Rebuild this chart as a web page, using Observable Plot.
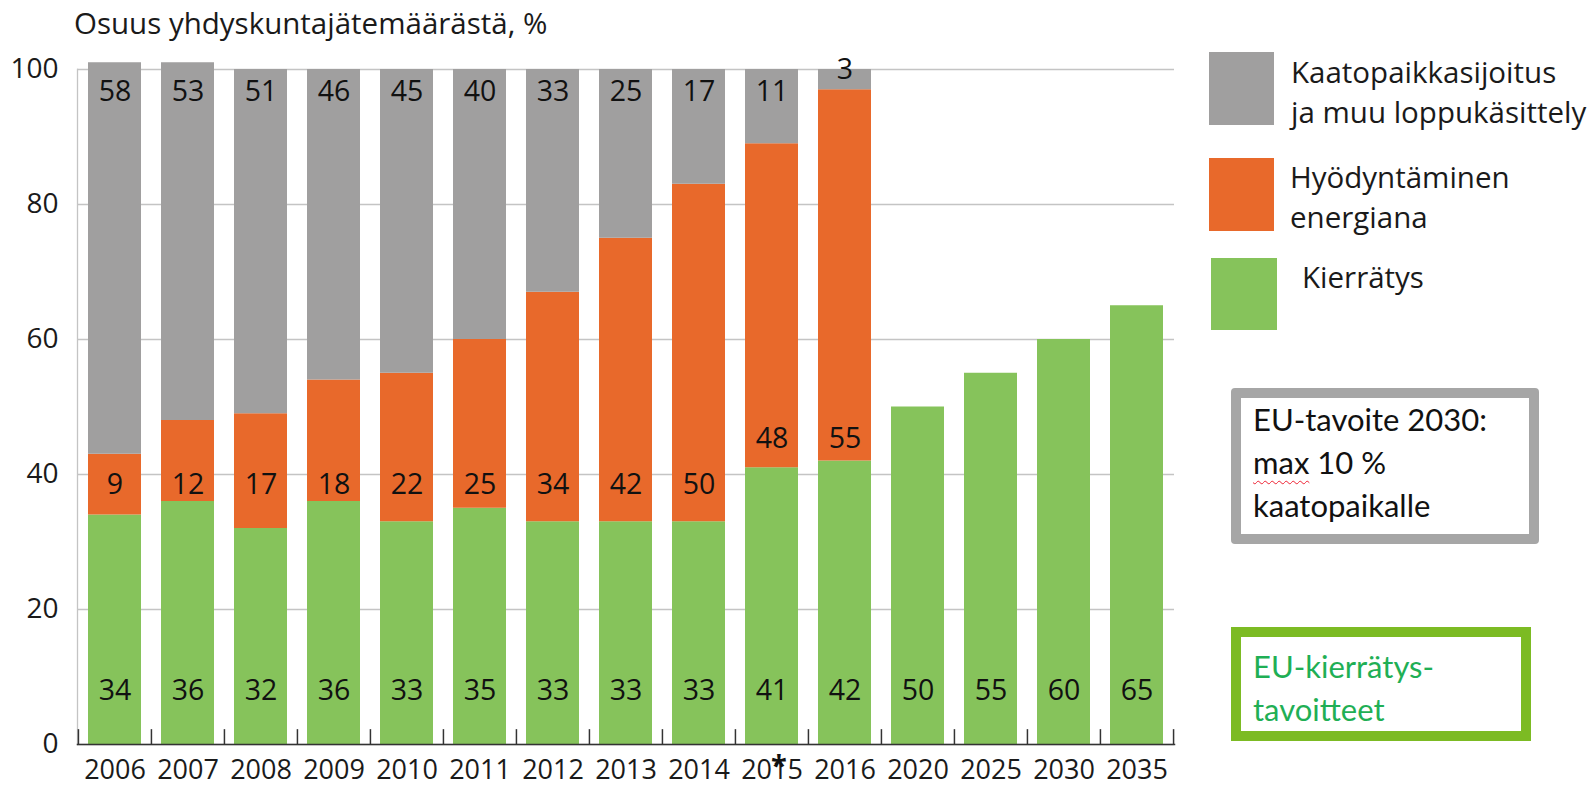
<!DOCTYPE html>
<html>
<head>
<meta charset="utf-8">
<script src="https://cdn.jsdelivr.net/npm/d3@7"></script>
<script src="https://cdn.jsdelivr.net/npm/@observablehq/plot@0.6"></script>
<style>
  html, body { margin: 0; padding: 0; background: #fff; }
  #wrap { position: relative; width: 1593px; height: 787px; overflow: hidden; font-family: "Open Sans", sans-serif; color: #1a1a1a; }
  #title { position: absolute; left: 74px; top: 2px; font-size: 29.5px; white-space: nowrap; }
  .sw { position: absolute; }
  .lt { position: absolute; font-size: 29.5px; line-height: 40px; white-space: nowrap; }
  .box { position: absolute; box-sizing: border-box; font-family: Lato, "Open Sans", sans-serif; font-size: 31px; line-height: 43px; white-space: nowrap; }
</style>
</head>
<body>
<div id="wrap">
  <div id="chart"></div>
  <div id="title">Osuus yhdyskuntajätemäärästä, %</div>
  <div id="legend"></div>
  <div class="box" style="left:1231px; top:388px; width:308px; height:156px; border:10px solid #a6a6a6; border-radius:4px; padding:0 0 0 12px; color:#111;">EU-tavoite 2030:<br><span style="text-decoration: underline wavy #e23; text-decoration-thickness:1px; text-underline-offset:6px;">max</span> 10 %<br>kaatopaikalle</div>
  <div class="box" style="left:1231px; top:627px; width:300px; height:114px; border:10px solid #7cbb23; padding:8px 0 0 12px; color:#1faf55;">EU-kierrätys-<br>tavoitteet</div>
</div>
<script>
const years = ["2006","2007","2008","2009","2010","2011","2012","2013","2014","2015","2016","2020","2025","2030","2035"];
const recycling = [34,36,32,36,33,35,33,33,33,41,42,50,55,60,65];
const energy = [9,12,17,18,22,25,34,42,50,48,55,null,null,null,null];
const landfill = [58,53,51,46,45,40,33,25,17,11,3,null,null,null,null];
const seriesNames = ["Kierrätys","Hyödyntäminen energiana","Kaatopaikkasijoitus ja muu loppukäsittely"];
const seriesColors = ["#86c35b","#e8692b","#a09f9f"];
const yTicks = [0,20,40,60,80,100];

const W = 1593, H = 787;
const mL = 77, mR = 419, mT = 69, mB = 43;
const step = (W - mL - mR) / years.length;

const rows = [];
years.forEach((yr, i) => {
  [recycling, energy, landfill].forEach((arr, s) => {
    if (arr[i] != null) rows.push({year: yr, series: seriesNames[s], value: arr[i]});
  });
});

// label placement rules
const labels = [];
years.forEach((yr, i) => {
  labels.push({year: yr, y: 8, text: String(recycling[i])});
  if (energy[i] != null) labels.push({year: yr, y: recycling[i] > 40 ? 45.3 : 38.4, text: String(energy[i])});
  if (landfill[i] != null) labels.push({year: yr, y: landfill[i] < 5 ? 100 : 96.7, text: String(landfill[i])});
});

const chart = Plot.plot({
  width: W, height: H,
  marginLeft: mL, marginRight: mR, marginTop: mT, marginBottom: mB,
  style: {fontFamily: "'Open Sans', sans-serif", fontSize: "28px", color: "#1a1a1a", background: "transparent", overflow: "visible"},
  x: {domain: years, paddingInner: 0.274, paddingOuter: 0.137, label: null},
  y: {domain: [0, 100], label: null},
  color: {domain: seriesNames, range: seriesColors},
  marks: [
    Plot.gridY(yTicks, {stroke: "#c4c4c4", strokeOpacity: 1, strokeWidth: 1.3}),
    Plot.frame({anchor: "left", stroke: "#c4c4c4", strokeWidth: 1.3}),
    Plot.barY(rows, {x: "year", y: "value", fill: "series", order: seriesNames}),
    Plot.text(labels, {x: "year", y: "y", text: "text", fontSize: 28.5, fill: "#111"}),
    Plot.ruleX(years, {x: d => d, y1: 0, y2: 2.2, dx: -step / 2, stroke: "#333", strokeWidth: 1.5}),
    Plot.ruleX([years[years.length - 1]], {x: d => d, y1: 0, y2: 2.2, dx: step / 2, stroke: "#333", strokeWidth: 1.5}),
    Plot.frame({anchor: "bottom", stroke: "#333", strokeWidth: 1.5}),
    Plot.axisY(yTicks, {tickSize: 0, tickPadding: 19, fontSize: 28, label: null}),
    Plot.axisX({tickSize: 0, tickPadding: 15, fontSize: 27, label: null}),
    Plot.text(["2015"], {x: d => d, y: 0, text: () => "*", frameAnchor: "bottom", dx: 7, dy: 31, fontSize: 29, fontWeight: "bold", fill: "#111"})
  ]
});
document.getElementById("chart").appendChild(chart);

// legend (HTML overlay)
const legendItems = [
  {name: "Kaatopaikkasijoitus<br>ja muu loppukäsittely", color: seriesColors[2], sx: 1209, sy: 52, sw: 65, sh: 73, tx: 1291, ty: 52},
  {name: "Hyödyntäminen<br>energiana", color: seriesColors[1], sx: 1209, sy: 158, sw: 65, sh: 73, tx: 1290, ty: 157},
  {name: "Kierrätys", color: seriesColors[0], sx: 1211, sy: 258, sw: 66, sh: 72, tx: 1302, ty: 257}
];
const lg = document.getElementById("legend");
legendItems.forEach(it => {
  const s = document.createElement("div");
  s.className = "sw";
  s.style.cssText = `left:${it.sx}px;top:${it.sy}px;width:${it.sw}px;height:${it.sh}px;background:${it.color};`;
  lg.appendChild(s);
  const t = document.createElement("div");
  t.className = "lt";
  t.style.cssText = `left:${it.tx}px;top:${it.ty}px;`;
  t.innerHTML = it.name;
  lg.appendChild(t);
});
</script>
</body>
</html>
